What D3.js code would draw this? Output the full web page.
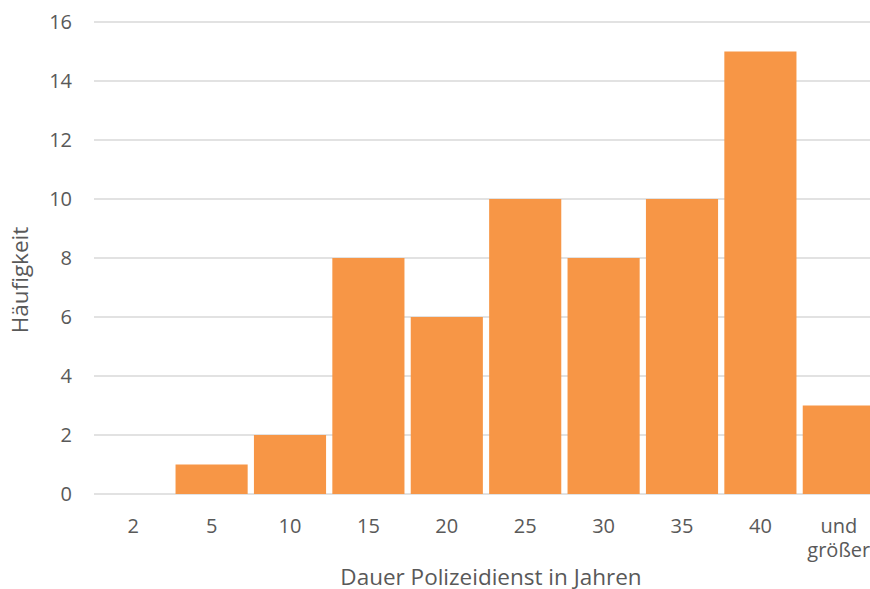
<!DOCTYPE html>
<html><head><meta charset="utf-8">
<script src="https://cdn.jsdelivr.net/npm/d3@7"></script>
<style>body{margin:0;background:#fff;} svg{display:block;}</style>
</head><body>
<svg id="c" width="870" height="589"></svg>
<script>
const categories = ["2","5","10","15","20","25","30","35","40","und größer"];
const values = [0,1,2,8,6,10,8,10,15,3];
const yTicks = [0,2,4,6,8,10,12,14,16];

const svg = d3.select("#c");
const font = "'Open Sans', sans-serif";
const x = d3.scaleBand().domain(categories).range([94, 878]).paddingInner(0.08).paddingOuter(0.04);
const y = d3.scaleLinear().domain([0,16]).range([494, 22]);

svg.append("g").selectAll("line").data(yTicks).join("line")
  .attr("x1", 94).attr("x2", 870).attr("y1", d=>y(d)).attr("y2", d=>y(d))
  .attr("stroke", "#d9d9d9").attr("stroke-width", 1.3);

svg.append("g").selectAll("text").data(yTicks).join("text")
  .attr("x", 72).attr("y", d=>y(d)).attr("dy","0.36em").attr("text-anchor","end")
  .attr("font-family", font).attr("font-size", 20).attr("fill", "#595959").text(d=>d);

svg.append("g").selectAll("rect").data(values).join("rect")
  .attr("x", (d,i)=>x(categories[i])).attr("width", x.bandwidth())
  .attr("y", d=>y(d)).attr("height", d=>y(0)-y(d))
  .attr("fill", "#F79646");

const xl = svg.append("g").selectAll("text").data(categories).join("text")
  .attr("x", d=>x(d)+x.bandwidth()/2).attr("y", 533).attr("text-anchor","middle")
  .attr("font-family", font).attr("font-size", 20).attr("fill", "#595959");
xl.each(function(d){
  const parts = d === "und größer" ? ["und","größer"] : [d];
  const t = d3.select(this);
  parts.forEach((p,i)=>t.append("tspan").attr("x", x(d)+x.bandwidth()/2).attr("dy", i===0?0:24).text(p));
});

svg.append("text").attr("x", 491).attr("y", 585).attr("text-anchor","middle")
  .attr("font-family", font).attr("font-size", 22.5).attr("fill", "#595959")
  .text("Dauer Polizeidienst in Jahren");

svg.append("text").attr("transform","translate(28,280) rotate(-90)").attr("text-anchor","middle")
  .attr("font-family", font).attr("font-size", 22.5).attr("fill", "#595959")
  .text("Häufigkeit");
</script>
</body></html>
